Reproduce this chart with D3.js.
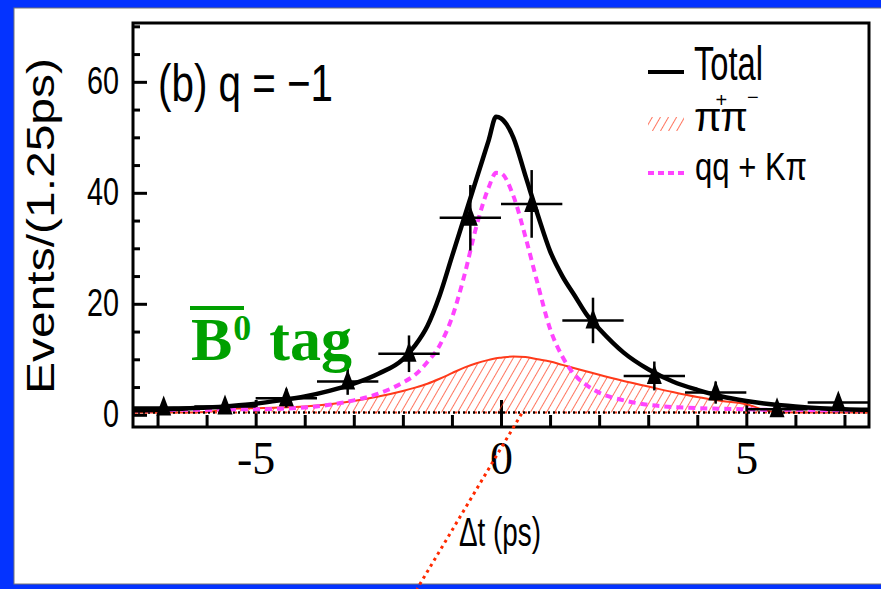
<!DOCTYPE html>
<html lang="en">
<head>
<meta charset="UTF-8">
<title>B0 tag, q = -1</title>
<style>
  body { margin: 0; background: #0433ff; }
  svg { display: block; }
</style>
</head>
<body>
<script src="https://d3js.org/d3.v7.min.js"></script>
<script>
var W = 881, H = 589;
var frame = {left: 133, right: 869, top: 23, bottom: 427};

// measured bins (1.25 ps wide)
var binCenters = [-6.875, -5.625, -4.375, -3.125, -1.875, -0.625, 0.625, 1.875, 3.125, 4.375, 5.625, 6.875];
var binCounts  = [1.3, 1.5, 3.0, 6.0, 11.0, 35.5, 38.0, 17.0, 7.0, 4.0, 1.0, 2.2];
var binErrors  = [1.1, 1.2, 1.7, 2.4, 3.3, 5.9, 6.1, 4.1, 2.6, 2.0, 1.0, 1.5];
var binHalf = 0.625;

// fit curves
var curveDt   = [-7.5, -7, -6.5, -6, -5.5, -5, -4.5, -4, -3.5, -3, -2.5, -2, -1.75, -1.5, -1.25, -1, -0.75, -0.5, -0.25, -0.1,
                 0, 0.25, 0.5, 0.75, 1, 1.25, 1.5, 1.75, 2, 2.5, 3, 3.5, 4, 4.5, 5, 5.5, 6, 6.5, 7, 7.5];
var totalFit  = [0.8, 0.9, 1.1, 1.3, 1.6, 2.0, 2.6, 3.3, 4.3, 5.6, 7.4, 10.0, 12.5, 16.0, 21.5, 28.5, 35.5, 42.5, 49.5, 53.7,
                 53.4, 50.0, 43.0, 36.0, 29.5, 25.0, 21.5, 18.0, 15.5, 11.2, 8.2, 6.0, 4.5, 3.3, 2.5, 1.9, 1.5, 1.2, 1.0, 0.9];
var pipiFit   = [0.4, 0.4, 0.4, 0.5, 1.1, 1.2, 1.3, 1.5, 1.9, 2.5, 3.3, 4.3, 4.9, 5.6, 6.5, 7.5, 8.5, 9.3, 9.9, 10.2,
                 10.3, 10.5, 10.4, 10.0, 9.6, 9.0, 8.4, 7.8, 7.2, 6.1, 5.1, 4.1, 3.2, 2.5, 1.9, 0.6, 0.4, 0.4, 0.4, 0.4];
var qqKpiFit  = [0.8, 0.8, 0.9, 0.9, 1.0, 1.0, 1.1, 1.3, 1.8, 2.6, 3.8, 5.8, 7.2, 9.5, 12.5, 17.5, 25.0, 34.0, 41.0, 43.6,
                 43.5, 39.5, 32.0, 23.5, 15.5, 10.5, 7.2, 5.3, 4.0, 2.6, 1.8, 1.4, 1.2, 1.1, 1.0, 0.9, 0.9, 0.8, 0.8, 0.8];
var baseLevel = 0.4;

var xMajorTicks = [-5, 0, 5];
var xMinorTicks = [-7, -6, -4, -3, -2, -1, 1, 2, 3, 4, 6, 7];
var yMajorTicks = [0, 20, 40, 60];
var yMinorTicks = [5, 10, 15, 25, 30, 35, 45, 50, 55, 65, 70];

var sans = "'Liberation Sans', Arial, Helvetica, sans-serif";
var serif = "'Liberation Serif', 'Times New Roman', Times, serif";

var svg = d3.select("body").append("svg")
    .attr("width", W)
    .attr("height", H);

// slide background
svg.append("rect").attr("width", W).attr("height", H).attr("fill", "#0433ff");
svg.append("rect")
    .attr("x", 14).attr("y", 8).attr("width", W - 13).attr("height", 576)
    .attr("fill", "#fff").attr("stroke", "#777").attr("stroke-width", 1);

var x = d3.scaleLinear().domain([-7.5, 7.5]).range([frame.left, frame.right]);
var y = d3.scaleLinear().domain([-2.2, 70.6]).range([frame.bottom, frame.top]);

svg.append("defs").append("clipPath").attr("id", "plotclip")
  .append("rect")
    .attr("x", frame.left).attr("y", frame.top)
    .attr("width", frame.right - frame.left).attr("height", frame.bottom - frame.top);

var hatch = svg.select("defs").append("pattern")
    .attr("id", "hatch")
    .attr("patternUnits", "userSpaceOnUse")
    .attr("width", 7).attr("height", 7)
    .attr("patternTransform", "rotate(30)");
hatch.append("line")
    .attr("x1", 0).attr("y1", 0).attr("x2", 0).attr("y2", 7)
    .attr("stroke", "#ff3a1a").attr("stroke-width", 1.4);

// axes
var gy = svg.append("g")
    .attr("transform", "translate(" + frame.left + ",0)")
    .call(d3.axisLeft(y).tickValues(yMajorTicks).tickSizeInner(-14).tickSizeOuter(0).tickPadding(14)
        .tickFormat(d3.format("d")));
gy.select(".domain").remove();
gy.selectAll("line").attr("stroke", "#000").attr("stroke-width", 3);
gy.selectAll("text")
    .attr("font-family", sans).attr("font-size", 38).attr("fill", "#000")
    .attr("textLength", function(d) { return String(d).length * 16; })
    .attr("lengthAdjust", "spacingAndGlyphs");

var gym = svg.append("g")
    .attr("transform", "translate(" + frame.left + ",0)")
    .call(d3.axisLeft(y).tickValues(yMinorTicks).tickSizeInner(-7).tickSizeOuter(0).tickFormat(""));
gym.select(".domain").remove();
gym.selectAll("line").attr("stroke", "#000").attr("stroke-width", 3);

var gx = svg.append("g")
    .attr("transform", "translate(0," + frame.bottom + ")")
    .call(d3.axisBottom(x).tickValues(xMajorTicks).tickSizeInner(-27).tickSizeOuter(0).tickPadding(14)
        .tickFormat(function(d) { return String(d); }));
gx.select(".domain").remove();
gx.selectAll("line").attr("stroke", "#000").attr("stroke-width", 3);
gx.selectAll("text")
    .attr("font-family", serif).attr("font-size", 46).attr("fill", "#000");

var gxm = svg.append("g")
    .attr("transform", "translate(0," + frame.bottom + ")")
    .call(d3.axisBottom(x).tickValues(xMinorTicks).tickSizeInner(-12).tickSizeOuter(0).tickFormat(""));
gxm.select(".domain").remove();
gxm.selectAll("line").attr("stroke", "#000").attr("stroke-width", 3);

// curves
var plot = svg.append("g").attr("clip-path", "url(#plotclip)");

var fitRows = curveDt.map(function(t, i) {
    return {t: t, total: totalFit[i], pipi: pipiFit[i], qq: qqKpiFit[i]};
});

plot.append("path")
    .datum(fitRows)
    .attr("fill", "url(#hatch)")
    .attr("d", d3.area().curve(d3.curveMonotoneX)
        .x(function(d) { return x(d.t); })
        .y0(y(baseLevel))
        .y1(function(d) { return y(d.pipi); }));

plot.append("path")
    .datum(fitRows)
    .attr("fill", "none").attr("stroke", "#ff3a1a").attr("stroke-width", 2)
    .attr("d", d3.line().curve(d3.curveMonotoneX)
        .x(function(d) { return x(d.t); })
        .y(function(d) { return y(d.pipi); }));

plot.append("line")
    .attr("x1", frame.left).attr("x2", frame.right)
    .attr("y1", y(baseLevel)).attr("y2", y(baseLevel))
    .attr("stroke", "#000").attr("stroke-width", 2.5).attr("stroke-dasharray", "2,3");
plot.append("line")
    .attr("x1", frame.left + 2).attr("x2", frame.right)
    .attr("y1", y(baseLevel)).attr("y2", y(baseLevel))
    .attr("stroke", "#ff3a1a").attr("stroke-width", 2).attr("stroke-dasharray", "2,8");

plot.append("path")
    .datum(fitRows)
    .attr("fill", "none").attr("stroke", "#ff44ff").attr("stroke-width", 4)
    .attr("stroke-dasharray", "7,5")
    .attr("d", d3.line().curve(d3.curveMonotoneX)
        .x(function(d) { return x(d.t); })
        .y(function(d) { return y(d.qq); }));

plot.append("path")
    .datum(fitRows)
    .attr("fill", "none").attr("stroke", "#000").attr("stroke-width", 4.5)
    .attr("d", d3.line().curve(d3.curveMonotoneX)
        .x(function(d) { return x(d.t); })
        .y(function(d) { return y(d.total); }));

// data points
var pts = binCenters.map(function(c, i) { return {c: c, n: binCounts[i], e: binErrors[i]}; });
var pg = plot.selectAll(".pt").data(pts).enter().append("g").attr("class", "pt");
pg.append("line")
    .attr("x1", function(d) { return x(d.c - binHalf); })
    .attr("x2", function(d) { return x(d.c + binHalf); })
    .attr("y1", function(d) { return y(d.n); })
    .attr("y2", function(d) { return y(d.n); })
    .attr("stroke", "#000").attr("stroke-width", 2.5);
pg.append("line")
    .attr("x1", function(d) { return x(d.c); })
    .attr("x2", function(d) { return x(d.c); })
    .attr("y1", function(d) { return y(d.n - d.e); })
    .attr("y2", function(d) { return y(d.n + d.e); })
    .attr("stroke", "#000").attr("stroke-width", 2.5);
pg.append("path")
    .attr("transform", function(d) { return "translate(" + x(d.c) + "," + y(d.n) + ")"; })
    .attr("d", "M0,-12L7.5,8L-7.5,8Z")
    .attr("fill", "#000");

// frame
svg.append("rect")
    .attr("x", frame.left).attr("y", frame.top)
    .attr("width", frame.right - frame.left).attr("height", frame.bottom - frame.top)
    .attr("fill", "none").attr("stroke", "#000").attr("stroke-width", 3);

// axis titles
svg.append("text")
    .attr("transform", "translate(54,226) rotate(-90)")
    .attr("text-anchor", "middle")
    .attr("font-family", sans).attr("font-size", 38)
    .attr("textLength", 336).attr("lengthAdjust", "spacingAndGlyphs")
    .text("Events/(1.25ps)");

svg.append("text")
    .attr("x", 459).attr("y", 546)
    .attr("font-family", sans).attr("font-size", 40)
    .attr("textLength", 82).attr("lengthAdjust", "spacingAndGlyphs")
    .text("\u0394t (ps)");

svg.append("text")
    .attr("x", 158).attr("y", 101)
    .attr("font-family", sans).attr("font-size", 52)
    .attr("textLength", 175).attr("lengthAdjust", "spacingAndGlyphs")
    .text("(b) q = \u22121");

// legend
var lg = svg.append("g");
lg.append("line").attr("x1", 648).attr("x2", 684).attr("y1", 72).attr("y2", 72)
    .attr("stroke", "#000").attr("stroke-width", 4);
lg.append("text").attr("x", 694).attr("y", 80)
    .attr("font-family", sans).attr("font-size", 48)
    .attr("textLength", 69).attr("lengthAdjust", "spacingAndGlyphs")
    .text("Total");

lg.append("rect").attr("x", 648).attr("y", 117).attr("width", 36).attr("height", 14)
    .attr("fill", "url(#hatch)");
var pipiLabel = lg.append("text").attr("x", 694).attr("y", 131)
    .attr("font-family", sans).attr("font-size", 40);
pipiLabel.append("tspan").text("\u03c0");
pipiLabel.append("tspan").attr("font-size", 20).attr("dx", -6).attr("dy", -24).text("+");
pipiLabel.append("tspan").attr("dx", -7).attr("dy", 24).text("\u03c0");
pipiLabel.append("tspan").attr("font-size", 20).attr("dx", -1).attr("dy", -27).text("\u2212");

lg.append("line").attr("x1", 648).attr("x2", 684).attr("y1", 173).attr("y2", 173)
    .attr("stroke", "#ff44ff").attr("stroke-width", 4).attr("stroke-dasharray", "6,4");
lg.append("text").attr("x", 695).attr("y", 180)
    .attr("font-family", sans).attr("font-size", 38)
    .attr("textLength", 112).attr("lengthAdjust", "spacingAndGlyphs")
    .text("qq + K\u03c0");

// B0-bar tag annotation
var tag = svg.append("g").attr("fill", "#00a000").attr("font-family", serif).attr("font-weight", "bold");
tag.append("rect").attr("x", 190).attr("y", 306).attr("width", 54).attr("height", 4);
var tagText = tag.append("text").attr("x", 191).attr("y", 360).attr("font-size", 62);
tagText.append("tspan").text("B");
tagText.append("tspan").attr("font-size", 36).attr("dx", 1).attr("dy", -20).text("0");
tagText.append("tspan").attr("dx", 18).attr("dy", 20).text("tag");

// red dotted pointer
svg.append("line")
    .attr("x1", x(0.42)).attr("y1", y(0.2))
    .attr("x2", 417).attr("y2", 589)
    .attr("stroke", "#ff2a00").attr("stroke-width", 3).attr("stroke-dasharray", "3,4");
</script>
</body>
</html>
